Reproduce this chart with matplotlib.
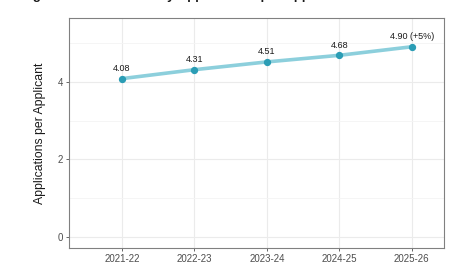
import matplotlib
matplotlib.use('Agg')
import matplotlib.pyplot as plt

plt.rcParams['font.family'] = ['Liberation Sans', 'DejaVu Sans']

# data
years = ['2021-22', '2022-23', '2023-24', '2024-25', '2025-26']
apps_per_applicant = [4.08, 4.31, 4.51, 4.68, 4.90]
point_labels = ['4.08', '4.31', '4.51', '4.68', '4.90 (+5%)']

fig = plt.figure(figsize=(4.68, 2.64), dpi=100)
ax = fig.add_axes([69/468, 1 - 247.7/264, (443.7 - 69)/468, (247.7 - 18)/264])

x = list(range(1, len(years) + 1))
ax.plot(x, apps_per_applicant, color='#8ccfdc', lw=2.6, solid_capstyle='round', zorder=3)
ax.scatter(x, apps_per_applicant, color='#2b9db5', s=18, zorder=4)
for xi, yi, lab in zip(x, apps_per_applicant, point_labels):
    ax.annotate(lab, (xi, yi), xytext=(0, 4), textcoords='offset points',
                ha='center', va='bottom', fontsize=6.5, color='#1a1a1a')

ax.set_xlim(0.27, 5.44)
ax.set_ylim(-0.27, 5.64)
ax.set_xticks(x)
ax.set_xticklabels(years)
ax.set_yticks([0, 2, 4])
ax.set_yticks([1, 3, 5], minor=True)
ax.grid(True, which='major', color='#ebebeb', lw=0.8)
ax.grid(True, which='minor', axis='y', color='#f4f4f4', lw=0.6)
ax.set_axisbelow(True)
ax.tick_params(axis='both', which='major', labelsize=7, labelcolor='#4d4d4d',
               color='#4d4d4d', length=2.5, width=0.6, pad=2)
ax.tick_params(axis='y', which='minor', length=0)
for s in ax.spines.values():
    s.set_color('#808080')
    s.set_linewidth(0.8)

ax.set_ylabel('Applications per Applicant', fontsize=8.8, color='#1a1a1a', labelpad=8)

# title is clipped at the top edge of the image, as in the source picture
fig.text(0.045, 1.003, 'Figure 4: Trend in Yearly Applications per Applicant',
         fontsize=9.5, fontweight='bold', va='baseline', ha='left', color='#1a1a1a')

fig.savefig('out.png', dpi=100)
